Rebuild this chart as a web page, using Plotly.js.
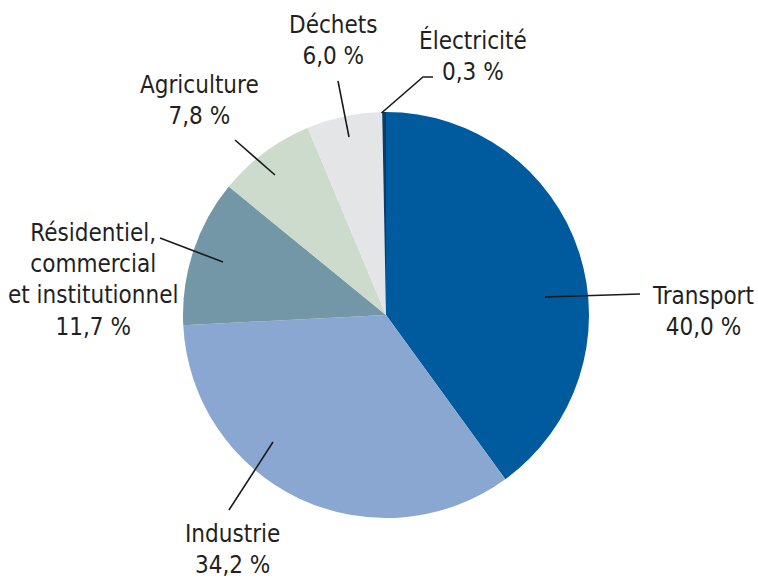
<!DOCTYPE html>
<html>
<head>
<meta charset="utf-8">
<script src="https://cdn.plot.ly/plotly-3.0.1.min.js"></script>
<style>html,body{margin:0;padding:0;background:#fff;}#chart{width:758px;height:582px;}</style>
</head>
<body>
<div id="chart"></div>
<script>
// Data
const sectors = ["Transport", "Industrie", "Résidentiel,<br>commercial<br>et institutionnel", "Agriculture", "Déchets", "Électricité"];
const shares = [40.0, 34.2, 11.7, 7.8, 6.0, 0.3];
const shareLabels = ["40,0 %", "34,2 %", "11,7 %", "7,8 %", "6,0 %", "0,3 %"];
const colors = ["#005b9e", "#8aa7d1", "#7397a7", "#cddbcd", "#e4e5e7", "#0e3a68"];

// Label placement (pixels): text centre, leader line path points
const W = 758, H = 582;
const labelPos = [
  {tx: 703, ty: 311, line: [[545, 297], [640, 294]]},
  {tx: 232, ty: 549, line: [[273, 442], [229, 510]]},
  {tx: 93,  ty: 280, line: [[223, 262], [160, 238]]},
  {tx: 199, ty: 100, line: [[275, 175], [235, 140]]},
  {tx: 333, ty: 41,  line: [[349, 137], [338, 81]]},
  {tx: 473, ty: 56,  line: [[381.5, 113], [423, 77], [433, 77]]}
];
const fx = px => px / W;
const fy = py => 1 - py / H;

const font = {family: "'Liberation Sans Narrow', 'DejaVu Sans Condensed', 'Roboto', sans-serif", size: 24, color: "#231f20"};

const annotations = sectors.map((s, i) => ({
  xref: "paper", yref: "paper",
  x: fx(labelPos[i].tx), y: fy(labelPos[i].ty),
  xanchor: "center", yanchor: "middle",
  text: s + "<br>" + shareLabels[i],
  showarrow: false, align: "center", font: font
}));

const shapes = labelPos.map(p => ({
  type: "path", xref: "paper", yref: "paper",
  path: p.line.map((pt, k) => (k ? "L" : "M") + fx(pt[0]) + "," + fy(pt[1])).join(" "),
  line: {color: "#1a1a1a", width: 1.6}
}));

const trace = {
  type: "pie",
  labels: sectors,
  values: shares,
  sort: false,
  direction: "clockwise",
  rotation: 0,
  textinfo: "none",
  hoverinfo: "label+percent",
  marker: {colors: colors, line: {width: 0}},
  domain: {x: [183 / W, 589 / W], y: [1 - 518 / H, 1 - 112 / H]}
};

Plotly.newPlot("chart", [trace], {
  width: W, height: H,
  margin: {l: 0, r: 0, t: 0, b: 0},
  showlegend: false,
  paper_bgcolor: "#fff",
  annotations: annotations,
  shapes: shapes
}, {displayModeBar: false, staticPlot: true});
</script>
</body>
</html>
